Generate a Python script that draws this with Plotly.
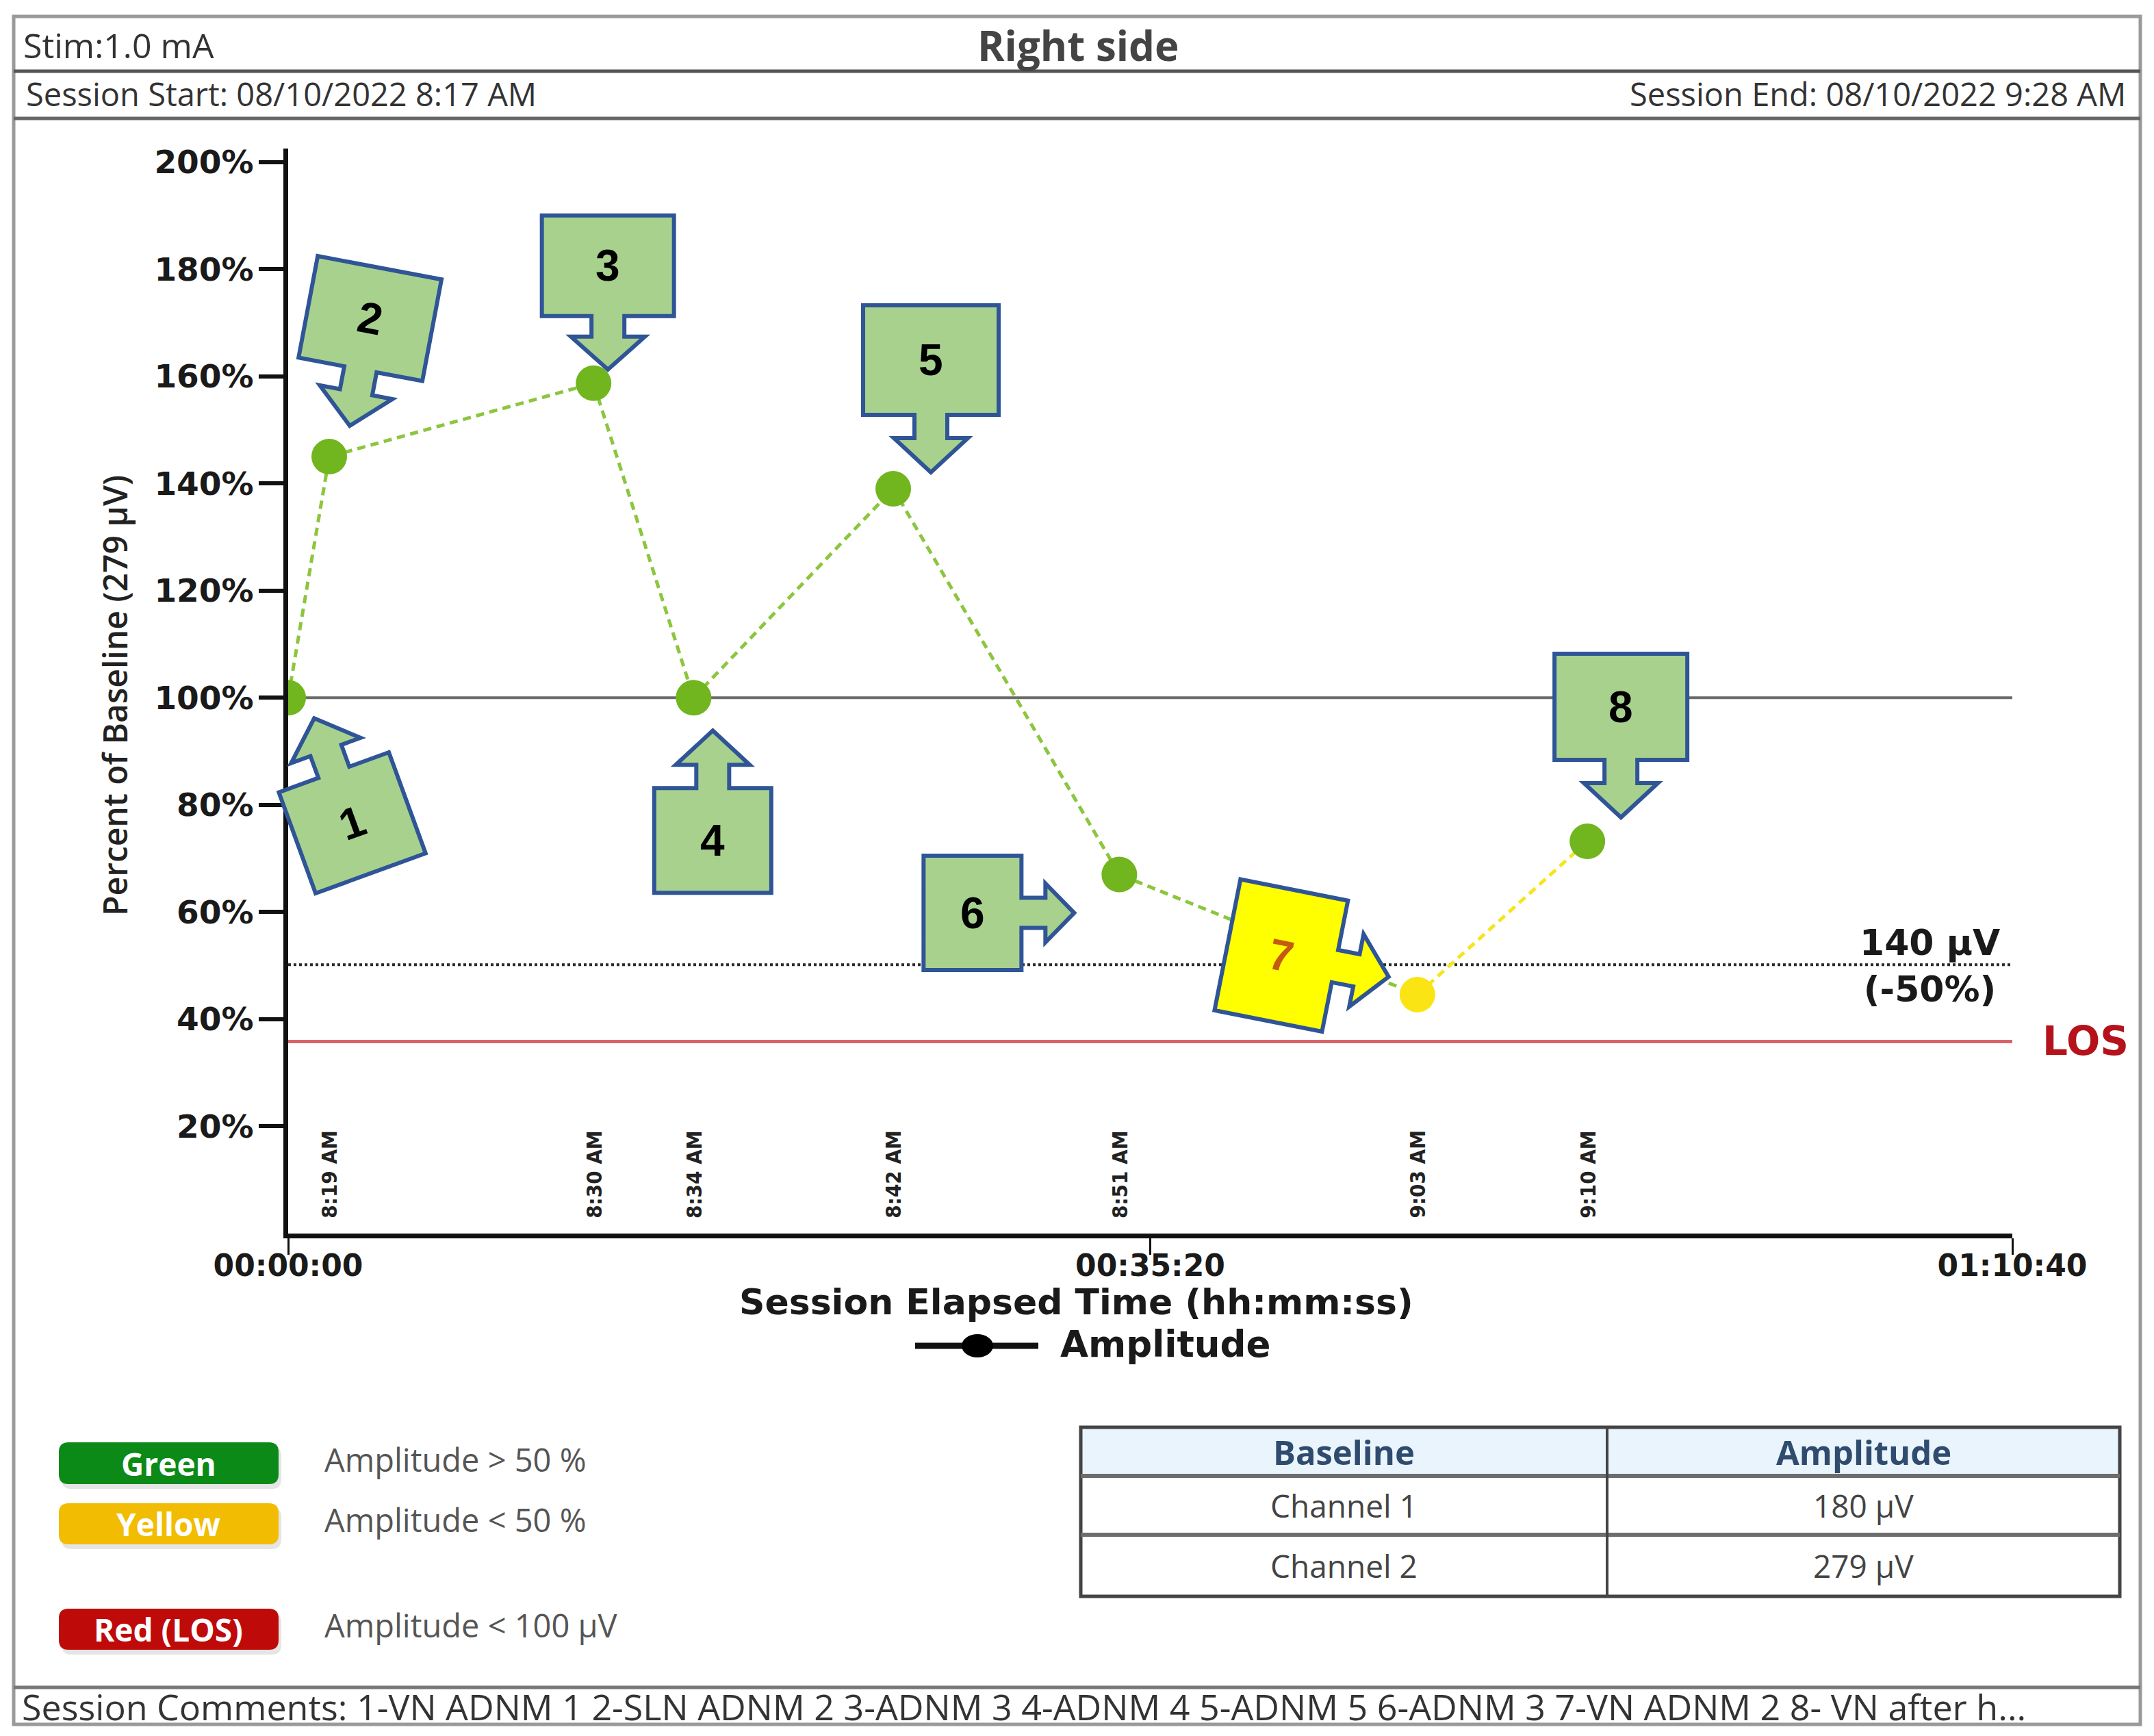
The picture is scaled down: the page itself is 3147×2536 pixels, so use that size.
import math
import plotly.graph_objects as go

# ---------------- data ----------------
point_ids = [1, 2, 3, 4, 5, 6, 7, 8]
elapsed_s = [0, 101, 751, 997, 1488, 2044, 2777, 3195]
pct_of_baseline = [100.0, 145.0, 158.7, 100.0, 139.0, 67.0, 44.6, 73.2]
clock_labels = ["", "8:19 AM", "8:30 AM", "8:34 AM", "8:42 AM", "8:51 AM", "9:03 AM", "9:10 AM"]
point_status = ["green", "green", "green", "green", "green", "green", "yellow", "green"]

x_tickvals = [0, 2120, 4240]
x_ticktext = ["00:00:00", "00:35:20", "01:10:40"]
y_tickvals = [20, 40, 60, 80, 100, 120, 140, 160, 180, 200]
y_ticktext = ["20%", "40%", "60%", "80%", "100%", "120%", "140%", "160%", "180%", "200%"]

BASELINE_UV = 279
ALERT_UV = 140
LOS_UV = 100

key_labels = ["Green", "Yellow", "Red (LOS)"]
key_desc = ["Amplitude > 50 %", "Amplitude < 50 %", "Amplitude < 100 µV"]
table_header = ["Baseline", "Amplitude"]
table_channels = ["Channel 1", "Channel 2"]
table_amplitudes = ["180 µV", "279 µV"]

stim_text = "Stim:1.0 mA"
title_text = "Right side"
start_text = "Session Start: 08/10/2022 8:17 AM"
end_text = "Session End: 08/10/2022 9:28 AM"
comments_text = ("Session Comments: 1-VN ADNM 1 2-SLN ADNM 2 3-ADNM 3 4-ADNM 4 "
                 "5-ADNM 5 6-ADNM 3 7-VN ADNM 2 8- VN after h...")

# ---------------- layout geometry ----------------
W, H = 3147, 2536          # window size
OFF = 8                    # default page body margin
ML, MR, MT, MB = 421, 207, 217, 734   # plot area in window pixels
PW = W - ML - MR
PH = H - MT - MB
X_RANGE = [0, 4240]
Y_RANGE = [0, 202.5]

FONT_UI = "Open Sans"
FONT_CH = "DejaVu Sans"

alert_pct = ALERT_UV / BASELINE_UV * 100
los_pct = LOS_UV / BASELINE_UV * 100


def px2x(X):
    return (X - ML) / PW


def py2y(Y):
    return (H - MB - Y) / PH


def absxy(X, Y):
    return X - ML, (H - MB) - Y


shapes = []
annotations = []


def text(t, X, Y, size, color="#333", family=FONT_UI, weight="normal", xanchor="center",
         yanchor="middle", angle=0):
    annotations.append(dict(text=t, x=px2x(X), y=py2y(Y), xref="paper", yref="paper",
                            showarrow=False, xanchor=xanchor, yanchor=yanchor, textangle=angle,
                            font=dict(family=family, size=size, color=color, weight=weight)))


def hline_px(X0, X1, Y, color, width):
    shapes.append(dict(type="line", xref="paper", yref="paper", x0=px2x(X0), x1=px2x(X1),
                       y0=py2y(Y), y1=py2y(Y), line=dict(color=color, width=width)))


def rect_px(X0, Y0, X1, Y1, line_color=None, width=0, fill=None, layer="above"):
    shapes.append(dict(type="rect", xref="paper", yref="paper", x0=px2x(X0), x1=px2x(X1),
                       y0=py2y(Y1), y1=py2y(Y0), layer=layer,
                       line=dict(color=line_color or "rgba(0,0,0,0)", width=width),
                       fillcolor=fill or "rgba(0,0,0,0)"))


def round_rect_path(X0, Y0, X1, Y1, r):
    def P(X, Y):
        a, b = absxy(X, Y)
        return f"{a:.1f},{b:.1f}"
    return (f"M{P(X0 + r, Y0)} L{P(X1 - r, Y0)} Q{P(X1, Y0)} {P(X1, Y0 + r)} "
            f"L{P(X1, Y1 - r)} Q{P(X1, Y1)} {P(X1 - r, Y1)} L{P(X0 + r, Y1)} "
            f"Q{P(X0, Y1)} {P(X0, Y1 - r)} L{P(X0, Y0 + r)} Q{P(X0, Y0)} {P(X0 + r, Y0)} Z")


# ---------------- frame & header ----------------
rect_px(20, 24, 3127, 2519, line_color="#9a9a9a", width=5)
hline_px(20, 3127, 104, "#555555", 5)
hline_px(20, 3127, 173, "#666666", 5)
hline_px(20, 3127, 2465, "#777777", 5)

text(stim_text, 32, 66, 50, xanchor="left")
text(title_text, 1575, 66, 60, color="#444", weight="bold")
text(start_text, 36, 137, 47, xanchor="left")
text(end_text, 3108, 137, 47, xanchor="right")
text(comments_text, 30, 2492, 52, xanchor="left")

# ---------------- reference lines (data coords) ----------------
shapes.append(dict(type="line", xref="x", yref="y", x0=X_RANGE[0], x1=X_RANGE[1], y0=100, y1=100,
                   layer="below", line=dict(color="#6b6b6b", width=4)))
shapes.append(dict(type="line", xref="x", yref="y", x0=X_RANGE[0], x1=X_RANGE[1],
                   y0=alert_pct, y1=alert_pct, layer="below",
                   line=dict(color="#2a2a2a", width=4, dash="dot")))
shapes.append(dict(type="line", xref="x", yref="y", x0=X_RANGE[0], x1=X_RANGE[1],
                   y0=los_pct, y1=los_pct, layer="below",
                   line=dict(color="#d9646a", width=5)))

annotations.append(dict(text=f"{ALERT_UV} µV<br>(-50%)", x=X_RANGE[1], y=alert_pct, xref="x", yref="y",
                        xanchor="right", yanchor="middle", xshift=-16, yshift=-2, showarrow=False,
                        align="center",
                        font=dict(family=FONT_CH, size=52, color="#1a1a1a", weight="bold")))
annotations.append(dict(text="LOS", x=px2x(2982), y=los_pct, xref="paper", yref="y",
                        xanchor="left", yanchor="middle", showarrow=False,
                        font=dict(family=FONT_CH, size=58, color="#b5121b", weight="bold")))

# ---------------- traces ----------------
GREEN_LINE = "#8cc63f"
YELLOW_LINE = "#f5e51e"
marker_colors = {"green": "#71b51f", "yellow": "#fbe414"}

fig = go.Figure()
fig.add_trace(go.Scatter(x=elapsed_s[:7], y=pct_of_baseline[:7], mode="lines", showlegend=False,
                         line=dict(color=GREEN_LINE, width=5, dash="12px,8px"), hoverinfo="skip"))
fig.add_trace(go.Scatter(x=elapsed_s[6:8], y=pct_of_baseline[6:8], mode="lines", showlegend=False,
                         line=dict(color=YELLOW_LINE, width=5, dash="12px,8px"), hoverinfo="skip"))
fig.add_trace(go.Scatter(x=elapsed_s, y=pct_of_baseline, mode="markers", name="Amplitude",
                         showlegend=False,
                         marker=dict(size=52, color=[marker_colors[s] for s in point_status],
                                     line=dict(width=0))))

# clock labels under each reading
for t, lab in zip(elapsed_s, clock_labels):
    if not lab:
        continue
    annotations.append(dict(text=lab, x=t, y=2.6, xref="x", yref="y", textangle=-90,
                            xanchor="center", yanchor="bottom", showarrow=False,
                            font=dict(family="DejaVu Sans Condensed, DejaVu Sans", size=31,
                                      color="#222", weight="bold")))

# ---------------- numbered callouts ----------------
# (point index, arrow direction deg (screen), tip offset px, box width, box length, head params)
callouts = [
    (0, -110.0, (38, 30), 171, 157, (48, 34, 108, 50)),
    (1, 100.7, (30, -45), 184, 151, (48, 34, 108, 50)),
    (2, 90.0, (21, -20), 193, 147, (48, 30, 108, 48)),
    (3, -90.0, (28, 48), 171, 153, (48, 34, 108, 50)),
    (4, 90.0, (55, -24), 198, 160, (48, 34, 108, 50)),
    (5, 0.0, (-66, 56), 167, 143, (44, 35, 86, 42)),
    (6, 11.2, (-42, -26), 195, 160, (48, 32, 108, 48)),
    (7, 90.0, (49, -35), 194, 155, (48, 34, 108, 50)),
]


def callout_geom(angle_deg, tip, wb, hb, sw, sl, hw, hl):
    a = math.radians(angle_deg)
    d = (math.cos(a), math.sin(a))
    p = (-math.sin(a), math.cos(a))
    local = [(0, 0), (hw / 2, -hl), (sw / 2, -hl), (sw / 2, -hl - sl), (wb / 2, -hl - sl),
             (wb / 2, -hl - sl - hb), (-wb / 2, -hl - sl - hb), (-wb / 2, -hl - sl),
             (-sw / 2, -hl - sl), (-sw / 2, -hl), (-hw / 2, -hl)]
    pts = []
    for u, v in local:
        sx = tip[0] + v * d[0] + u * p[0]
        sy = tip[1] + v * d[1] + u * p[1]
        pts.append((sx, -sy))
    path = "M" + " L".join(f"{x:.1f},{y:.1f}" for x, y in pts) + " Z"
    back = hl + sl + hb / 2
    center = (tip[0] - d[0] * back, tip[1] - d[1] * back)
    return path, center


for idx, ang, tip, wb, hb, (sw, sl, hw, hl) in callouts:
    t = elapsed_s[idx]
    v = pct_of_baseline[idx]
    xa = (t - X_RANGE[0]) / (X_RANGE[1] - X_RANGE[0])
    ya = (v - Y_RANGE[0]) / (Y_RANGE[1] - Y_RANGE[0])
    path, c = callout_geom(ang, tip, wb, hb, sw, sl, hw, hl)
    is_yellow = point_status[idx] == "yellow"
    shapes.append(dict(type="path", xref="paper", yref="paper", xsizemode="pixel",
                       ysizemode="pixel", xanchor=xa, yanchor=ya, path=path, layer="above",
                       fillcolor="#ffff00" if is_yellow else "#a9d18e",
                       line=dict(color="#2f5597", width=6)))
    rot = ang - 90 if abs(ang - 90) < 45 else (ang + 90 if abs(ang + 90) < 45 else ang)
    annotations.append(dict(text=str(point_ids[idx]), x=xa, y=ya, xref="paper", yref="paper",
                            xshift=c[0], yshift=-c[1], showarrow=False, textangle=rot,
                            xanchor="center", yanchor="middle",
                            font=dict(family="Liberation Sans", size=64, weight="bold",
                                      color="#c55a11" if is_yellow else "#000000")))

# ---------------- axis titles & legend ----------------
text("Percent of Baseline (279 µV)", 168, 1016, 48, color="#222", weight=600, angle=-90)
text("Session Elapsed Time (hh:mm:ss)", 1572, 1902, 52, color="#1a1a1a", family=FONT_CH,
     weight="bold")

# legend entry
hline_px(1337, 1517, 1966, "#111111", 9)
shapes.append(dict(type="circle", xref="paper", yref="paper", x0=px2x(1405), x1=px2x(1451),
                   y0=py2y(1983), y1=py2y(1949), fillcolor="#000000", line=dict(width=0)))
text("Amplitude", 1547, 1964, 53, color="#1a1a1a", family=FONT_CH, weight="bold", xanchor="left")

# ---------------- colour key ----------------
key_colors = ["#0b8a17", "#f2bc02", "#bf0a0a"]
key_rows_y = [(2107, 2168), (2196, 2256), (2350, 2410)]
for lab, desc, col, (y0, y1) in zip(key_labels, key_desc, key_colors, key_rows_y):
    shapes.append(dict(type="path", xref="paper", yref="paper", xsizemode="pixel", ysizemode="pixel",
                       xanchor=0, yanchor=0, path=round_rect_path(90, y0 + 6, 411, y1 + 7, 14),
                       fillcolor="rgba(0,0,0,0.10)", line=dict(width=0)))
    shapes.append(dict(type="path", xref="paper", yref="paper", xsizemode="pixel", ysizemode="pixel",
                       xanchor=0, yanchor=0, path=round_rect_path(86, y0, 407, y1, 14),
                       fillcolor=col, line=dict(width=0)))
    text(lab, 246, (y0 + y1) / 2, 46, color="#ffffff", weight="bold")
    text(desc, 472, (y0 + y1) / 2 - 6, 47, color="#555555", xanchor="left")

# ---------------- baseline table ----------------
tx = [1579, 2348, 3097]
ty = [2085, 2156, 2242, 2332]
rect_px(tx[0], ty[0], tx[2], ty[1], fill="#eaf4fc", layer="below")
rect_px(tx[0], ty[0], tx[2], ty[3], line_color="#444444", width=5)
hline_px(tx[0], tx[2], ty[1], "#6d6d6d", 6)
hline_px(tx[0], tx[2], ty[2], "#6d6d6d", 6)
shapes.append(dict(type="line", xref="paper", yref="paper", x0=px2x(tx[1]), x1=px2x(tx[1]),
                   y0=py2y(ty[0]), y1=py2y(ty[3]), line=dict(color="#444444", width=4)))
col_c = [(tx[0] + tx[1]) / 2, (tx[1] + tx[2]) / 2]
for j, hd in enumerate(table_header):
    text(hd, col_c[j], (ty[0] + ty[1]) / 2, 49, color="#2f4b6e", weight="bold")
for i, (ch, amp) in enumerate(zip(table_channels, table_amplitudes)):
    yc = (ty[i + 1] + ty[i + 2]) / 2
    text(ch, col_c[0], yc, 46, color="#444444")
    text(amp, col_c[1], yc, 46, color="#444444")

# ---------------- layout ----------------
fig.update_layout(
    width=W - 2 * OFF, height=H - 2 * OFF,
    margin=dict(l=ML - OFF, r=MR - OFF, t=MT - OFF, b=MB - OFF, pad=0),
    paper_bgcolor="white", plot_bgcolor="white",
    showlegend=False,
    shapes=shapes, annotations=annotations,
    xaxis=dict(range=X_RANGE, tickvals=x_tickvals, ticktext=x_ticktext, showgrid=False,
               zeroline=False, showline=True, linecolor="#111111", linewidth=7,
               ticks="outside", ticklen=24, tickwidth=3, tickcolor="#111111",
               ticklabelstandoff=-22,
               tickfont=dict(family=FONT_CH, size=44, color="#1a1a1a", weight="bold"),
               fixedrange=True),
    yaxis=dict(range=Y_RANGE, tickvals=y_tickvals, ticktext=y_ticktext, showgrid=False,
               zeroline=False, showline=True, linecolor="#111111", linewidth=7,
               ticks="outside", ticklen=36, tickwidth=6, tickcolor="#111111",
               ticklabelstandoff=-2,
               tickfont=dict(family=FONT_CH, size=47, color="#1a1a1a", weight="bold"),
               fixedrange=True),
)

fig.write_html("out.html")
